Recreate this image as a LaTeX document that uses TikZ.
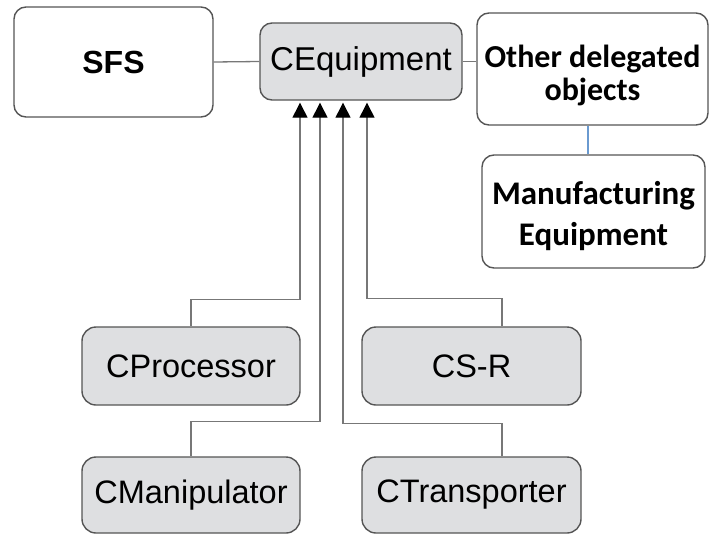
\documentclass[tikz,border=0pt]{standalone}
\usepackage{fontspec}
\setmainfont{Liberation Sans}
\newfontfamily\carl{Carlito}
\usetikzlibrary{arrows.meta,calc}
\definecolor{boxfill}{HTML}{DEDFE1}
\definecolor{boxdraw}{HTML}{555555}
\definecolor{linec}{HTML}{777777}
\definecolor{bluec}{HTML}{6A9AD0}
\tikzset{
  whitebox/.style={draw=boxdraw, line width=1.4pt, fill=white, rounded corners=12pt, inner sep=0pt, align=center},
  graybox/.style={draw=boxdraw, line width=1.4pt, fill=boxfill, rounded corners=14pt, inner sep=0pt,
    minimum width=218pt, minimum height=78pt, font=\fontsize{32.5}{38}\selectfont},
  conn/.style={draw=linec, line width=1.3pt},
  arr/.style={conn, -{Triangle[length=15pt,width=15pt,color=black]}, shorten >=2pt},
}
\begin{document}
\begin{tikzpicture}[x=1pt,y=-1pt]
\useasboundingbox (0,0) rectangle (709,535);
% top row
\node[whitebox, minimum width=199pt, minimum height=110pt, font=\bfseries\fontsize{32}{36}\selectfont] (sfs) at (113.5,62) {SFS};
\node[graybox, minimum width=202pt, minimum height=77pt, rounded corners=12pt, font=\fontsize{33}{38}\selectfont] (ceq) at (361,61.5) {CEquipment};
\node[whitebox, minimum width=231pt, minimum height=112pt] (oth) at (592.5,69) {};
\node[font=\carl\bfseries\fontsize{32}{33}\selectfont, align=center, inner sep=0pt] (othtext) at (592.5,75) {Other delegated\\objects};
\node[whitebox, minimum width=223pt, minimum height=113pt] (man) at (593.5,211.5) {};
\node[font=\carl\bfseries\fontsize{33}{41}\selectfont, align=center, inner sep=0pt] (mantext) at (593.5,216) {Manufacturing\\Equipment};
% lower boxes
\node[graybox] (cproc) at (191,366) {CProcessor};
\node[graybox, minimum width=219pt] (csr) at (471.5,366) {CS-R};
\node[graybox, minimum height=76pt] (cman) at (191,495) {CManipulator};
\node[graybox, minimum width=219pt, minimum height=76pt] (ctr) at (471.5,495) {CTransporter};
% plain connectors
\draw[conn] (sfs.east) -- (ceq.west);
\draw[conn] (ceq.east) -- (ceq.east -| oth.west);
\draw[draw=bluec, line width=1.3pt] ([xshift=-4.5pt]oth.south) -- ([xshift=-4.5pt]oth.south |- man.north);
% inheritance arrows
\draw[arr] (cproc.north) -- ++(0,-27) -| ([xshift=-61pt]ceq.south);
\draw[arr] (cman.north) -- ++(0,-35) -| ([xshift=-41pt]ceq.south);
\draw[arr] ([xshift=30.5pt]ctr.north) -- ++(0,-33) -| ([xshift=-18pt]ceq.south);
\draw[arr] ([xshift=30.5pt]csr.north) -- ++(0,-28) -| ([xshift=6pt]ceq.south);
\end{tikzpicture}
\end{document}
